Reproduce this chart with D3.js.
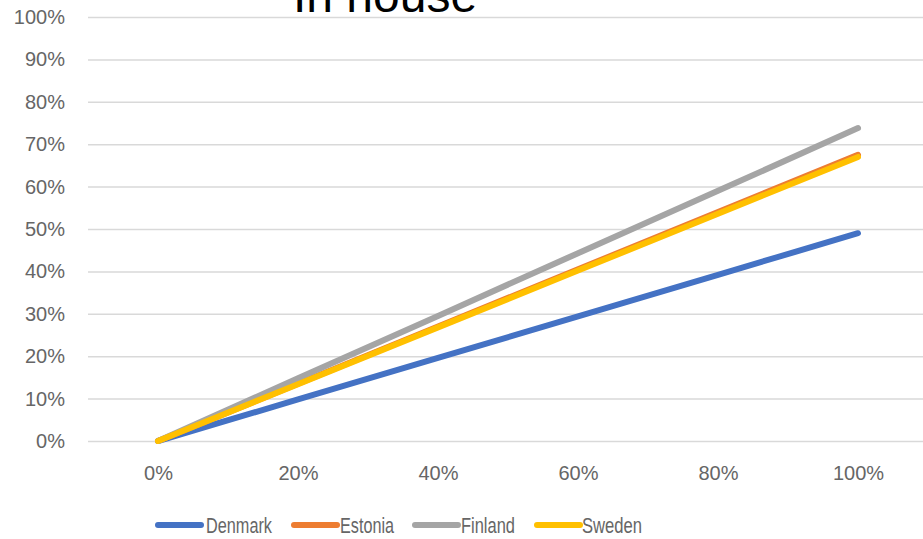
<!DOCTYPE html>
<html>
<head>
<meta charset="utf-8">
<script src="https://cdn.jsdelivr.net/npm/d3@7"></script>
<style>
  html, body { margin: 0; padding: 0; background: #fff; }
  svg { display: block; }
</style>
</head>
<body>
<svg id="chart" width="923" height="539"></svg>
<script>
// Share of activity handled in house, by country
const categories = ["0%", "20%", "40%", "60%", "80%", "100%"];
const denmark = [0, 0.098, 0.196, 0.294, 0.392, 0.49];
const estonia = [0, 0.135, 0.27, 0.405, 0.54, 0.675];
const finland = [0, 0.148, 0.295, 0.443, 0.59, 0.738];
const sweden  = [0, 0.134, 0.268, 0.402, 0.536, 0.67];
const seriesNames = ["Denmark", "Estonia", "Finland", "Sweden"];
const yTicks = [0, 0.1, 0.2, 0.3, 0.4, 0.5, 0.6, 0.7, 0.8, 0.9, 1.0];
const title = "In house";

const colors = ["#4472C4", "#ED7D31", "#A5A5A5", "#FFC000"];
const series = [denmark, estonia, finland, sweden].map((values, i) => ({
  name: seriesNames[i], values, color: colors[i]
}));

const svg = d3.select("#chart");
const plot = { left: 88, right: 928, top: 17, bottom: 441 };

const x = d3.scalePoint().domain(categories)
  .range([plot.left, plot.right]).padding(0.5);
const y = d3.scaleLinear().domain([0, 1]).range([plot.bottom, plot.top]);

const fmt = d3.format(".0%");
const labelFont = "'Liberation Sans', Arial, sans-serif";

// horizontal gridlines + y labels
const yAxis = d3.axisLeft(y).tickValues(yTicks).tickFormat(fmt)
  .tickSize(-(plot.right - plot.left)).tickPadding(23);
const gy = svg.append("g").attr("transform", `translate(${plot.left},0)`).call(yAxis);
gy.select(".domain").remove();
gy.selectAll(".tick line").attr("stroke", "#d9d9d9").attr("stroke-width", 1.5);
gy.selectAll(".tick text").attr("fill", "#666666")
  .style("font-family", labelFont).style("font-size", "20px");

// x labels
const xAxis = d3.axisBottom(x).tickSize(0).tickPadding(25);
const gx = svg.append("g").attr("transform", `translate(0,${plot.bottom})`).call(xAxis);
gx.select(".domain").remove();
gx.selectAll(".tick text").attr("fill", "#666666")
  .style("font-family", labelFont).style("font-size", "20px");

// lines
const line = d3.line().x((d, i) => x(categories[i])).y(d => y(d));
svg.append("g").selectAll("path").data(series).join("path")
  .attr("d", d => line(d.values))
  .attr("fill", "none")
  .attr("stroke", d => d.color)
  .attr("stroke-width", 6)
  .attr("stroke-linecap", "round")
  .attr("stroke-linejoin", "round");

// title, sitting against the top edge
svg.append("text")
  .attr("x", 385).attr("y", 12)
  .attr("text-anchor", "middle")
  .attr("fill", "#000")
  .style("font-family", "'Liberation Sans', Arial, sans-serif")
  .style("font-size", "48px")
  .text(title);

// legend
const legendItems = [
  { x: 158, tx: 206, w: 66 },
  { x: 294, tx: 340, w: 54 },
  { x: 415, tx: 461, w: 54 },
  { x: 537, tx: 582, w: 60 }
];
const lg = svg.append("g").selectAll("g").data(series).join("g");
lg.append("line")
  .attr("x1", (d, i) => legendItems[i].x)
  .attr("x2", (d, i) => legendItems[i].x + 43)
  .attr("y1", 525).attr("y2", 525)
  .attr("stroke", d => d.color).attr("stroke-width", 6)
  .attr("stroke-linecap", "round");
lg.append("text")
  .attr("x", (d, i) => legendItems[i].tx)
  .attr("y", 525).attr("dy", "0.36em")
  .attr("fill", "#666666")
  .attr("textLength", (d, i) => legendItems[i].w)
  .attr("lengthAdjust", "spacingAndGlyphs")
  .style("font-family", labelFont)
  .style("font-size", "22px")
  .text(d => d.name);
</script>
</body>
</html>
